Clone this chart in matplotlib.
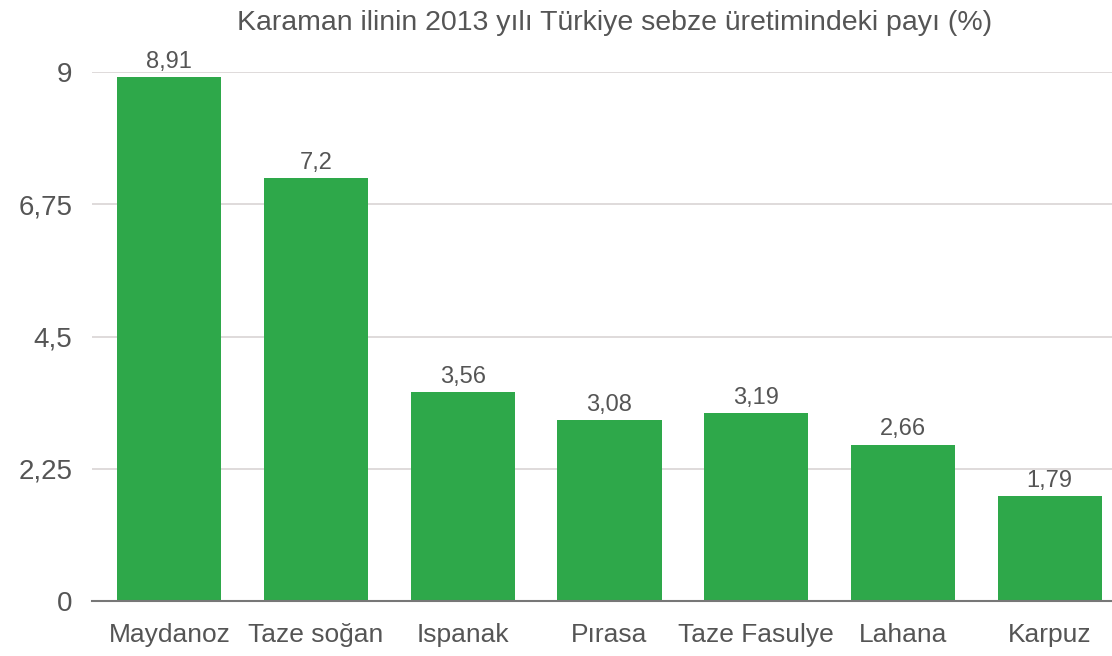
import matplotlib
matplotlib.use("Agg")
import matplotlib.pyplot as plt

categories = ["Maydanoz", "Taze soğan", "Ispanak", "Pırasa", "Taze Fasulye", "Lahana", "Karpuz"]
values = [8.91, 7.2, 3.56, 3.08, 3.19, 2.66, 1.79]
value_labels = ["8,91", "7,2", "3,56", "3,08", "3,19", "2,66", "1,79"]
yticks = [0, 2.25, 4.5, 6.75, 9]
ytick_labels = ["0", "2,25", "4,5", "6,75", "9"]
title = "Karaman ilinin 2013 yılı Türkiye sebze üretimindeki payı (%)"

plt.rcParams['font.family'] = ['Liberation Sans', 'DejaVu Sans']

fig = plt.figure(figsize=(11.12, 6.56), dpi=100)
ax = fig.add_axes([92/1112, 55/656, 1 - 92/1112, (601-72)/656])

x = list(range(len(categories)))
ax.bar(x, values, width=0.71, color="#2ea84a", zorder=3)
for xi, v, lab in zip(x, values, value_labels):
    ax.annotate(lab, (xi, v), xytext=(0, 3), textcoords="offset points",
                ha="center", va="bottom", fontsize=17, color="#555555")

ax.set_xlim(-0.527, 6.425)
ax.set_ylim(0, 9)
ax.set_yticks(yticks)
ax.set_yticklabels(ytick_labels, fontsize=20, color="#555555")
ax.set_xticks(x)
ax.set_xticklabels(categories, fontsize=19, color="#555555")
ax.tick_params(axis="both", length=0)
ax.tick_params(axis="y", pad=14)
ax.tick_params(axis="x", pad=16)

ax.yaxis.grid(True, color="#dcd8d8", linewidth=1.3, zorder=0)
for s in ["top", "right", "left"]:
    ax.spines[s].set_visible(False)
ax.spines["bottom"].set_color("#777777")
ax.spines["bottom"].set_linewidth(1.5)
ax.spines["bottom"].set_zorder(4)

fig.text(0.553, 1 - 23/656, title, ha="center", va="center", fontsize=20.5, color="#555555")

fig.savefig("out.png", dpi=100)
